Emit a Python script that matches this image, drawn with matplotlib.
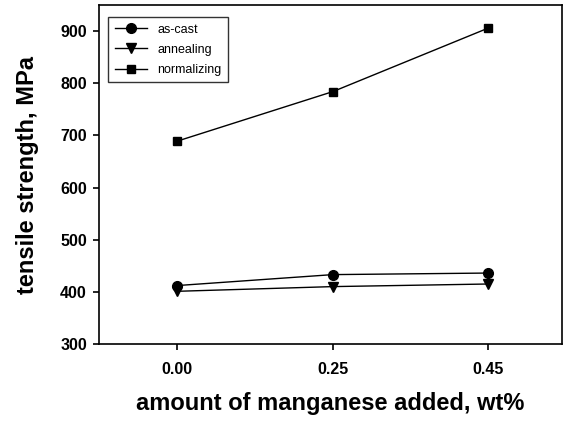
import matplotlib
matplotlib.use("Agg")
import matplotlib.pyplot as plt

plt.rcParams["font.family"] = ["Liberation Sans", "DejaVu Sans"]

# ---- data ----
categories = ["0.00", "0.25", "0.45"]
as_cast = [412, 433, 436]
annealing = [401, 410, 415]
normalizing = [689, 784, 906]

INK = "#000000"

fig = plt.figure(figsize=(5.65, 4.21), dpi=100)
fig.patch.set_facecolor("white")
ax = fig.add_axes([0.176, 0.183, 0.818, 0.805])

x = range(len(categories))
ax.plot(x, as_cast, color=INK, lw=1.0, marker="o", ms=7, label="as-cast")
ax.plot(x, annealing, color=INK, lw=1.0, marker="v", ms=7, label="annealing")
ax.plot(x, normalizing, color=INK, lw=1.0, marker="s", ms=6, label="normalizing")

ax.set_xlim(-0.5, 2.47)
ax.set_ylim(300, 950)
ax.set_xticks(list(x))
ax.set_xticklabels(categories)
ax.set_yticks([300, 400, 500, 600, 700, 800, 900])

for s in ax.spines.values():
    s.set_linewidth(1.2)
ax.tick_params(direction="out", length=4, width=1.2, labelsize=11.5, pad=5)
for lab in ax.get_xticklabels() + ax.get_yticklabels():
    lab.set_fontweight("bold")
ax.tick_params(axis="x", pad=9)

ax.set_xlabel("amount of manganese added, wt%", fontsize=17, fontweight="bold", labelpad=11)
ax.set_ylabel("tensile strength, MPa", fontsize=17, fontweight="bold", labelpad=15)

leg = ax.legend(loc="upper left", fontsize=9, frameon=True, fancybox=False,
                edgecolor=INK, handlelength=2.6, borderpad=0.5, labelspacing=0.65,
                bbox_to_anchor=(0.006, 0.982))
leg.get_frame().set_linewidth(1.0)

fig.savefig("out.png", dpi=100, facecolor="white")
